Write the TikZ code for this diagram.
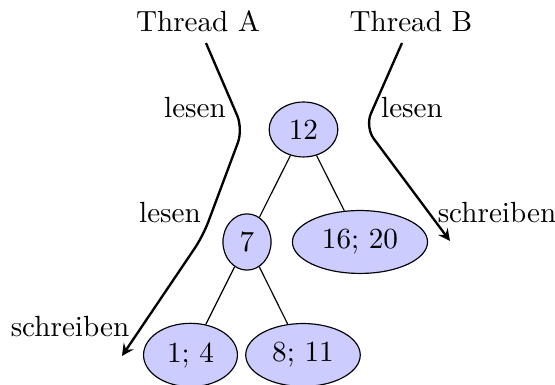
\documentclass[tikz,border=0pt]{standalone}
\usetikzlibrary{shapes.geometric}
\begin{document}
\begin{tikzpicture}[x=0.343pt,y=-0.343pt,
  tnode/.style={ellipse,draw,fill=blue!20},
  tedge/.style={draw},
  thread/.style={draw,thick,rounded corners=5pt,-stealth},
  lbl/.style={anchor=base,inner sep=0pt}]
\useasboundingbox (0,0) rectangle (555,385);
% tree
\node[tnode] (n12) at (303.5,129.5) {12};
\node[tnode] (n7) at (247,242) {7};
\node[tnode] (n1620) at (360,242) {16; 20};
\node[tnode] (n14) at (190.5,355) {1; 4};
\node[tnode] (n811) at (303,355) {8; 11};
\draw[tedge] (n12) -- (n7);
\draw[tedge] (n12) -- (n1620);
\draw[tedge] (n7) -- (n14);
\draw[tedge] (n7) -- (n811);
% threads
\node[lbl] (ta) at (198,32) {Thread A};
\node[lbl] (tb) at (411,32) {Thread B};
\coordinate (a0) at (206,43);
\coordinate (a1) at (243,129);
\coordinate (a2) at (203,236);
\coordinate (a3) at (122,356);
\coordinate (b0) at (402,43);
\coordinate (b1) at (365,127);
\coordinate (b2) at (450,241);
\draw[thread] (a0) -- (a1) -- (a2) -- (a3);
\draw[thread] (b0) -- (b1) -- (b2);
% labels
\node[lbl] (la1) at (195,118) {lesen};
\node[lbl] (la2) at (170,223) {lesen};
\node[lbl] (la3) at (70,337) {schreiben};
\node[lbl] (lb1) at (412,118) {lesen};
\node[lbl] (lb2) at (497,223) {schreiben};
\end{tikzpicture}
\end{document}
